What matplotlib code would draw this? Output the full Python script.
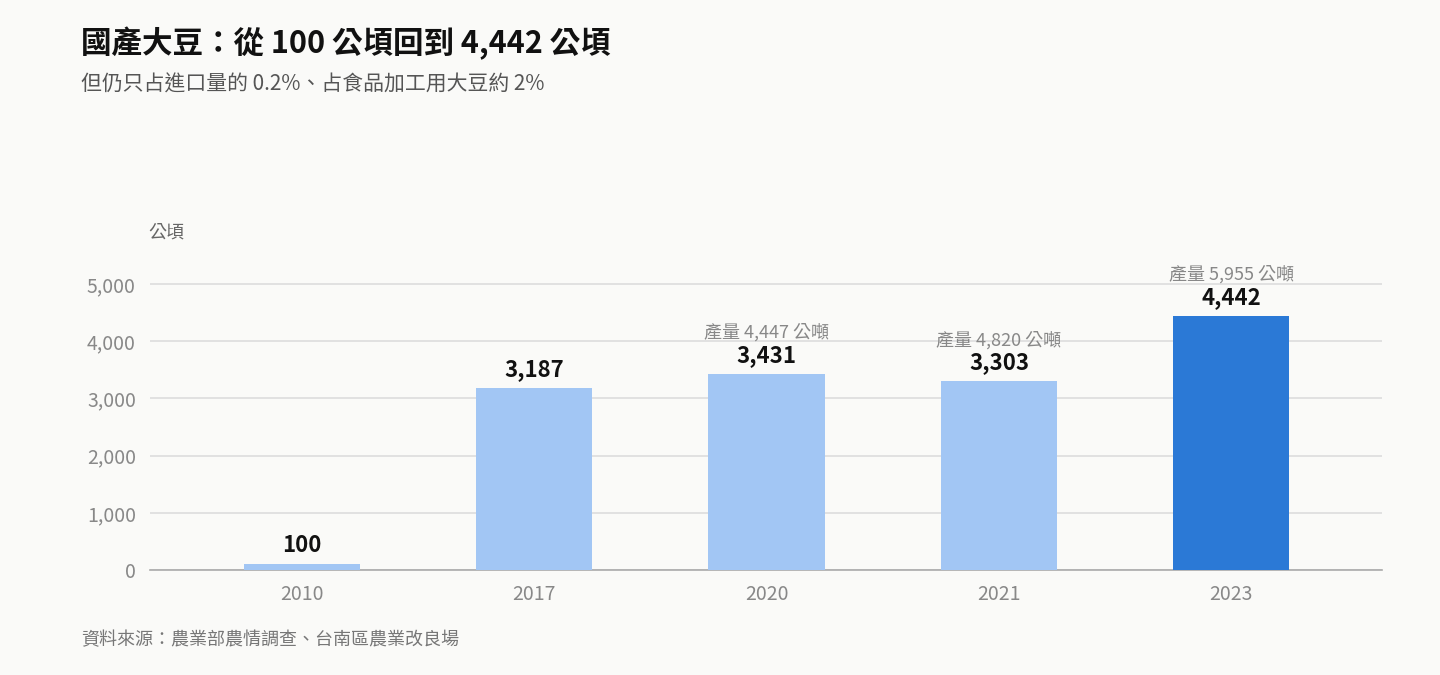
import matplotlib.pyplot as plt

plt.rcParams['font.family'] = ['Noto Sans CJK TC', 'DejaVu Sans']

years = ['2010', '2017', '2020', '2021', '2023']
area = [100, 3187, 3431, 3303, 4442]
output_notes = ['', '', '產量 4,447 公噸', '產量 4,820 公噸', '產量 5,955 公噸']
colors = ['#A2C6F4', '#A2C6F4', '#A2C6F4', '#A2C6F4', '#2B79D6']
yticks = [0, 1000, 2000, 3000, 4000, 5000]

bg = '#FAFAF8'
fig = plt.figure(figsize=(14.4, 6.75), dpi=100, facecolor=bg)
ax = fig.add_axes([0.104, 0.1556, 0.856, 0.459], facecolor=bg)

x = range(len(years))
ax.bar(x, area, width=0.5, color=colors, zorder=3)
ax.set_xlim(-0.654, 4.65)
ax.set_ylim(0, 5420)
ax.set_yticks(yticks)
ax.set_yticklabels([f'{v:,}' for v in yticks])
ax.set_xticks(list(x))
ax.set_xticklabels(years)
ax.grid(axis='y', color='#DDDDDD', linewidth=1.2, zorder=0)
for s in ['top', 'right', 'left']:
    ax.spines[s].set_visible(False)
ax.spines['bottom'].set_color('#AAAAAA')
ax.spines['bottom'].set_linewidth(1.2)
ax.tick_params(axis='both', length=0, labelsize=14, colors='#888888', pad=10)

for i, v in enumerate(area):
    ax.text(i, v + 120, f'{v:,}', ha='center', va='bottom', fontsize=16,
            fontweight='bold', color='#111111')
    if output_notes[i]:
        ax.text(i, v + 560, output_notes[i], ha='center', va='bottom',
                fontsize=13, color='#888888')

fig.text(0.056, 0.935, '國產大豆：從 100 公頃回到 4,442 公頃', fontsize=22,
         fontweight='bold', color='#111111', va='center')
fig.text(0.056, 0.874, '但仍只占進口量的 0.2%、占食品加工用大豆約 2%', fontsize=15,
         color='#555555', va='center')
fig.text(0.103, 0.655, '公頃', fontsize=13, color='#666666', va='center')
fig.text(0.056, 0.052, '資料來源：農業部農情調查、台南區農業改良場', fontsize=13,
         color='#777777', va='center')

fig.savefig('out.png', dpi=100, facecolor=bg)
